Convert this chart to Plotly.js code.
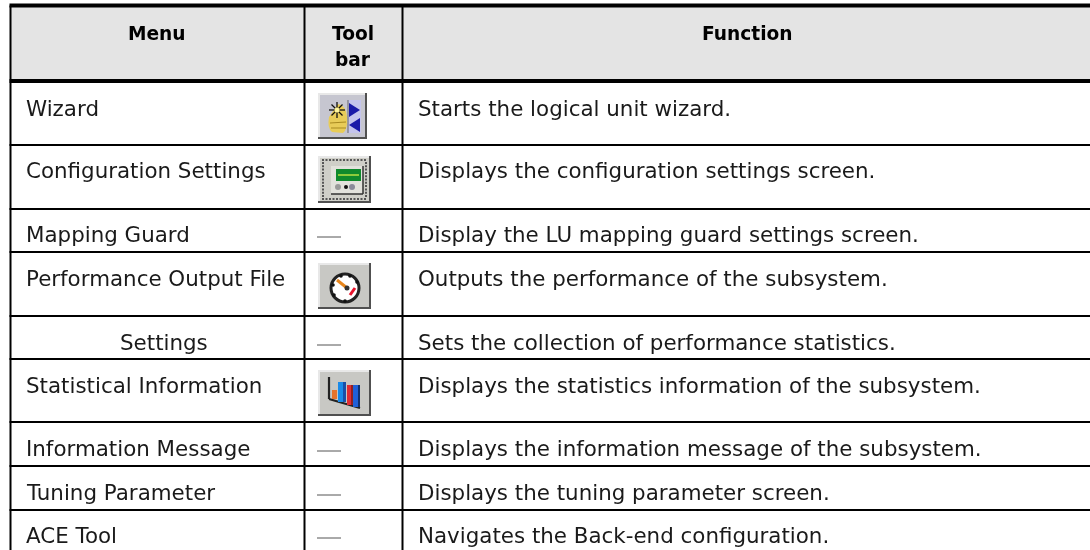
<!DOCTYPE html>
<html><head><meta charset="utf-8">
<script src="https://cdn.plot.ly/plotly-3.0.1.min.js"></script>
<style>html,body{margin:0;padding:0;background:#fff}#chart{filter:blur(0.35px)}</style></head>
<body><div id="chart" style="width:1090px;height:550px"></div>
<script>
const headers = ['Menu', 'Tool', 'bar', 'Function'];
const menuItems = ['Wizard','Configuration Settings','Mapping Guard','Performance Output File','Settings','Statistical Information','Information Message','Tuning Parameter','ACE Tool'];
const toolbar = ['wizard','config','—','gauge','—','bars','—','—','—'];
const functions = ['Starts the logical unit wizard.','Displays the configuration settings screen.','Display the LU mapping guard settings screen.','Outputs the performance of the subsystem.','Sets the collection of performance statistics.','Displays the statistics information of the subsystem.','Displays the information message of the subsystem.','Displays the tuning parameter screen.','Navigates the Back-end configuration.'];

// layout geometry
const colEdges = [10.5, 304.5, 402.5];
const rowEdges = [5.5, 81, 145, 209, 252, 316, 359, 422, 466, 510];
const textY = [108, 170, 234, 278, 342, 385, 448, 492, 535];
const iconBoxes = {wizard:[318,93,367,139], config:[318,156,371,203], gauge:[318,263,371,309], bars:[318,370,371,416]};
const font = {family:'DejaVu Sans', size:21.4, color:'#1a1a1a'};
const boldFont = {family:'DejaVu Sans', size:18.6, color:'#000'};

const shapes = [], annotations = [];
const rect=(x0,y0,x1,y1,c)=>shapes.push({type:'rect',xref:'x',yref:'y',x0,y0,x1,y1,fillcolor:c,line:{width:0}});
const seg=(x0,y0,x1,y1,w,c)=>shapes.push({type:'line',xref:'x',yref:'y',x0,y0,x1,y1,line:{color:c||'#000',width:w}});
const path=(d,c)=>shapes.push({type:'path',xref:'x',yref:'y',path:d,fillcolor:c,line:{width:0}});
const circle=(cx,cy,r,c,lc,lw)=>shapes.push({type:'circle',xref:'x',yref:'y',x0:cx-r,x1:cx+r,y0:cy-r,y1:cy+r,fillcolor:c,line:{color:lc||c,width:lw||0}});
const text=(x,y,t,anchor,f)=>annotations.push({xref:'x',yref:'y',x,y,text:t,showarrow:false,xanchor:anchor,yanchor:'middle',font:f||font,borderpad:0});

rect(colEdges[0],rowEdges[0],1090,rowEdges[1],'#e4e4e4');
rowEdges.forEach((y,i)=>seg(colEdges[0]-1,y,1090,y,i<2?4:2));
colEdges.forEach(x=>seg(x,rowEdges[0],x,550,2));

text(156.5,33,'<b>'+headers[0]+'</b>','center',boldFont);
text(353,33,'<b>'+headers[1]+'</b>','center',boldFont);
text(353,59,'<b>'+headers[2]+'</b>','center',boldFont);
text(747,33,'<b>'+headers[3]+'</b>','center',boldFont);

const bevel=(b,face)=>{const [x0,y0,x1,y1]=b;
  rect(x0,y0,x1,y1,'#505050');
  rect(x0,y0,x1-2,y1-2,'#e8e8e8');
  rect(x0+2,y0+2,x1-2,y1-2,face);
};
const drawIcon={
 wizard(b){const [x,y]=b; bevel(b,'#c6c6d0');
  rect(x+30,y+7,x+43,y+40,'#c4c4ec');
  seg(x+30,y+7,x+30,y+40,1,'#666');
  path(`M${x+31},${y+10} L${x+42},${y+17} L${x+31},${y+24} Z`,'#1a1aa8');
  path(`M${x+42},${y+25} L${x+31},${y+32} L${x+42},${y+39} Z`,'#1a1aa8');
  path(`M${x+11},${y+24} Q${x+9},${y+35} ${x+14},${y+39} L${x+25},${y+40} Q${x+30},${y+36} ${x+29},${y+24} Q${x+28},${y+12} ${x+20},${y+11} Z`,'#e8cc58');
  seg(x+12,y+30,x+28,y+29,1,'#a88a20'); seg(x+13,y+35,x+28,y+35,1,'#a88a20');
  [[0,-8],[0,8],[-8,0],[8,0],[-5.5,-5.5],[5.5,5.5],[-5.5,5.5],[5.5,-5.5]].forEach(d=>seg(x+19,y+17,x+19+d[0],y+17+d[1],1.3,'#111'));
  circle(x+19,y+17,2.5,'#fff59a');
 },
 config(b){const [x,y]=b; bevel(b,'#cfcfc8');
  for(let i=0;i<13;i++){ rect(x+4+i*3.5,y+3,x+6+i*3.5,y+5,'#555'); rect(x+4+i*3.5,y+42,x+6+i*3.5,y+44,'#555'); }
  for(let i=0;i<11;i++){ rect(x+4,y+6+i*3.3,x+6,y+8+i*3.3,'#555'); rect(x+47,y+6+i*3.3,x+49,y+8+i*3.3,'#555'); }
  rect(x+13,y+10,x+45,y+38,'#e2e2dc');
  seg(x+45,y+10,x+45,y+38,1.5,'#333'); seg(x+13,y+38,x+45,y+38,1.5,'#333');
  rect(x+18,y+13,x+43,y+25,'#0f8a2c');
  seg(x+20,y+19,x+41,y+19,1.5,'#b8e040');
  circle(x+20,y+31,3,'#9a9a9a'); circle(x+28,y+31,2,'#111'); circle(x+34,y+31,3,'#8a8a9a');
 },
 gauge(b){const [x,y]=b; bevel(b,'#c8c8c4');
  const cx=x+27,cy=y+25; circle(cx,cy,14,'#fff','#222',3);
  [[-12,-3],[-11,7],[12,-6],[-4,-12],[5,-12],[0,13]].forEach(d=>circle(cx+d[0],cy+d[1],1.8,'#111'));
  seg(x+19,y+17,x+29,y+25,3,'#e8861c');
  seg(x+32,y+32,x+37,y+25,3,'#e8142c');
  circle(x+29,y+25,2.5,'#333');
 },
 bars(b){const [x,y]=b; bevel(b,'#c8c8c4');
  seg(x+11,y+7,x+11,y+29,2.2,'#222');
  seg(x+11,y+29,x+42,y+38,2.2,'#222');
  rect(x+14,y+20,x+19,y+29,'#e8742c');
  rect(x+20,y+12,x+25,y+32,'#1a8ae8'); rect(x+25,y+12,x+28,y+32,'#1a50a8');
  rect(x+29,y+15,x+33,y+35,'#e02c34'); rect(x+33,y+15,x+35,y+35,'#902020');
  rect(x+35,y+15,x+40,y+37,'#2060d8'); rect(x+40,y+15,x+42,y+37,'#103070');
 }
};

menuItems.forEach((m,i)=>{
  const y=textY[i];
  if(m==='Settings') text(163.5,y,m,'center'); else text(25,y,m,'left');
  text(417,y,functions[i],'left');
  if(toolbar[i]==='—') seg(317,y+3,341,y+3,1,'#555');
  else drawIcon[toolbar[i]](iconBoxes[toolbar[i]]);
});

Plotly.newPlot('chart',[],{width:1090,height:550,margin:{l:0,r:0,t:0,b:0,pad:0},paper_bgcolor:'#fff',plot_bgcolor:'#fff',showlegend:false,
 xaxis:{range:[0,1090],visible:false,fixedrange:true},yaxis:{range:[550,0],visible:false,fixedrange:true},shapes,annotations},{displayModeBar:false,staticPlot:true});
</script></body></html>
